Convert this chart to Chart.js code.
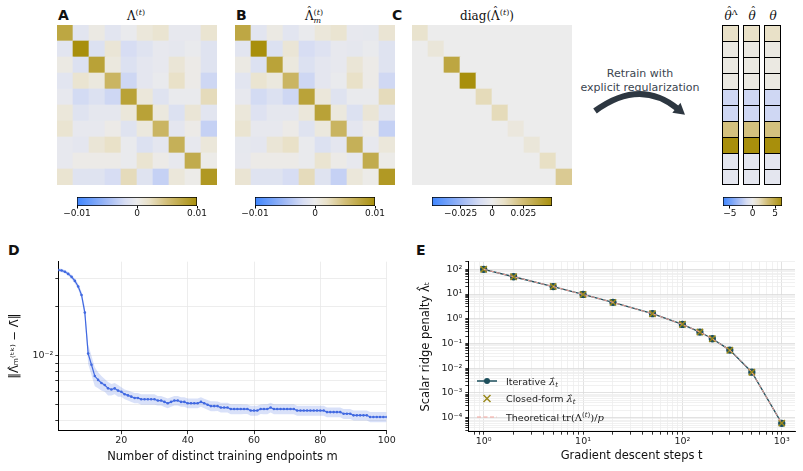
<!DOCTYPE html>
<html>
<head>
<meta charset="utf-8">
<title>figure</title>
<script src="https://cdn.jsdelivr.net/npm/chart.js@4.4.1/dist/chart.umd.min.js"></script>
<style>
  body { margin: 0; background: #fff; }
  #fig { position: relative; width: 803px; height: 471px; overflow: hidden; font-family: "DejaVu Sans", sans-serif; color: #111; }
  #fig canvas { position: absolute; }
  .panel { position: absolute; font-weight: bold; font-size: 14px; line-height: 14px; }
  .math { position: absolute; font-family: "DejaVu Serif", serif; font-size: 12px; line-height: 14px; text-align: center; white-space: nowrap; }
  .math sup { font-size: 8px; vertical-align: 5px; line-height: 0; }
  .ss { display: inline-block; font-size: 8px; line-height: 8px; vertical-align: -3px; text-align: left; }
  .hat { position: relative; display: inline-block; }
  .hat::after { content: "ˆ"; position: absolute; left: 0; right: 0; top: -4px; text-align: center; font-style: normal; font-size: 11px; }
  .hat.it::after { left: 2px; }
  #retrain { position: absolute; left: 575px; top: 67px; width: 130px; text-align: center; font-size: 11px; line-height: 14px; color: #3b4550; }
</style>
</head>
<body>
<div id="fig">
  <div class="panel" style="left:58px;top:8px">A</div>
  <div class="panel" style="left:236px;top:8px">B</div>
  <div class="panel" style="left:392px;top:8px">C</div>
  <div class="panel" style="left:8px;top:243px">D</div>
  <div class="panel" style="left:416px;top:243px">E</div>

  <div class="math" style="left:106px;top:9px;width:60px">Λ<sup>(<i>t</i>)</sup></div>
  <div class="math" style="left:284px;top:9px;width:60px"><span class="hat">Λ</span><span class="ss">(<i>t</i>)<br><i>m</i></span></div>
  <div class="math" style="left:437px;top:9px;width:100px">diag(<span class="hat">Λ</span><sup>(<i>t</i>)</sup>)</div>
  <div class="math" style="left:719px;top:9px;width:24px"><i class="hat it">θ</i><sup>Λ</sup></div>
  <div class="math" style="left:742px;top:9px;width:20px"><i class="hat it">θ</i></div>
  <div class="math" style="left:763px;top:9px;width:20px"><i>θ</i></div>

  <div id="retrain">Retrain with<br>explicit regularization</div>
  <svg width="803" height="471" style="position:absolute;left:0;top:0">
    <path d="M595,111 Q640,78 678,109" stroke="#2d3741" stroke-width="6" fill="none"/>
    <polygon points="685,114.7 672.3,112.7 680.5,102.7" fill="#2d3741"/>
  </svg>

  <canvas id="heatA" width="160" height="160" style="left:57px;top:25px"></canvas>
  <canvas id="heatB" width="160" height="160" style="left:235px;top:25px"></canvas>
  <canvas id="heatC" width="160" height="160" style="left:412px;top:25px"></canvas>
  <canvas id="vecs" width="63" height="160" style="left:720px;top:25px"></canvas>
  <canvas id="chartD" width="400" height="236" style="left:0px;top:235px"></canvas>
  <canvas id="chartE" width="403" height="236" style="left:400px;top:235px"></canvas>
</div>

<script>
// ---------- data ----------
// panel A: Lambda^(t), 10x10, rows top to bottom
const heatA = [
  [0.0075,-0.0010,0.0005,-0.0010,-0.0003,0.0010,0.0015,-0.0005,-0.0005,0.0015],
  [-0.0010,0.0100,-0.0015,0.0012,-0.0020,-0.0012,-0.0005,-0.0007,-0.0003,-0.0012],
  [0.0005,-0.0015,0.0080,0.0008,-0.0015,-0.0008,-0.0005,0.0012,0.0003,-0.0012],
  [-0.0010,0.0015,0.0008,0.0060,-0.0025,-0.0008,-0.0003,0.0020,0.0003,-0.0025],
  [-0.0005,-0.0022,-0.0015,-0.0025,0.0080,0.0010,-0.0012,-0.0003,-0.0003,0.0025],
  [0.0010,-0.0012,-0.0007,-0.0007,0.0010,0.0080,0.0008,-0.0015,0.0012,-0.0010],
  [0.0015,-0.0005,-0.0005,0.0003,-0.0012,0.0008,0.0060,-0.0008,0.0003,-0.0030],
  [-0.0005,-0.0008,0.0012,0.0020,-0.0003,-0.0015,-0.0008,0.0065,-0.0005,0.0010],
  [-0.0005,0.0003,0.0003,0.0003,-0.0003,0.0015,0.0003,-0.0005,0.0070,0.0002],
  [0.0015,-0.0012,-0.0012,-0.0020,0.0025,-0.0012,-0.0030,0.0010,0.0002,0.0090]
];
// panel B: estimated Lambda_m^(t)
const heatB = [
  [0.0074,-0.0010,0.0005,-0.0010,-0.0003,0.0010,0.0015,-0.0005,-0.0006,0.0014],
  [-0.0010,0.0100,-0.0015,0.0012,-0.0020,-0.0013,-0.0005,-0.0007,-0.0003,-0.0012],
  [0.0005,-0.0015,0.0079,0.0008,-0.0015,-0.0008,-0.0005,0.0012,0.0003,-0.0012],
  [-0.0010,0.0015,0.0008,0.0060,-0.0025,-0.0008,-0.0003,0.0020,0.0003,-0.0024],
  [-0.0005,-0.0022,-0.0015,-0.0025,0.0079,0.0010,-0.0012,-0.0003,-0.0003,0.0025],
  [0.0010,-0.0013,-0.0007,-0.0007,0.0010,0.0080,0.0008,-0.0015,0.0012,-0.0010],
  [0.0015,-0.0005,-0.0005,0.0003,-0.0012,0.0008,0.0061,-0.0008,0.0003,-0.0030],
  [-0.0006,-0.0008,0.0012,0.0020,-0.0003,-0.0015,-0.0008,0.0065,-0.0005,0.0010],
  [-0.0005,0.0003,0.0003,0.0003,-0.0003,0.0015,0.0003,-0.0005,0.0070,0.0002],
  [0.0014,-0.0012,-0.0012,-0.0020,0.0025,-0.0012,-0.0030,0.0010,0.0002,0.0089]
];
// panel C: diagonal of Lambda-hat
const diagC = [0.008, 0.005, 0.036, 0.0477, 0.012, 0.012, 0.004, 0.005, 0.010, 0.019];
// parameter vectors
const thetaLam  = [1.3, 0.35, 0.35, 0.35, -1.6, -1.6, 3.1, 6.5, -0.5, -0.5];
const thetaHat  = [1.3, 0.35, 0.35, 0.35, -1.6, -1.6, 3.1, 6.5, -0.5, -0.5];
const thetaTrue = [1.3, 0.35, 0.35, 0.35, -1.6, -1.6, 3.1, 6.5, -0.5, -0.5];

// colour scale limits and colourbar ticks
const vmaxAB = 0.01, vmaxC = 0.0477, vmaxVec = 6.5;
const cbTicksAB = [-0.01, 0, 0.01], cbLabelsAB = ['−0.01', '0', '0.01'];
const cbTicksC = [-0.025, 0, 0.025], cbLabelsC = ['−0.025', '0', '0.025'];
const cbTicksVec = [-5, 0, 5], cbLabelsVec = ['−5', '0', '5'];

// panel D: error vs number of endpoints m = 1..100
const dMean = [
  0.0336,0.0334,0.0328,0.0318,0.0305,0.0288,0.0266,0.0236,0.0184,0.0103,
  0.0088,0.0075,0.0071,0.0068,0.0066,0.0063,0.0062,0.0063,0.0061,0.0060,
  0.0058,0.0057,0.0056,0.0055,0.0055,0.0054,0.0054,0.0054,0.0054,0.0054,
  0.0053,0.0053,0.0052,0.0051,0.0052,0.0053,0.0053,0.0052,0.0052,0.0051,
  0.0051,0.0051,0.0051,0.0052,0.0051,0.0050,0.0049,0.0049,0.0049,0.0048,
  0.0048,0.0048,0.0047,0.0047,0.0047,0.0047,0.0047,0.0047,0.0046,0.0046,
  0.0046,0.0047,0.0047,0.0047,0.0048,0.0047,0.0047,0.0047,0.0047,0.0047,
  0.0047,0.0047,0.0046,0.0046,0.0046,0.0046,0.0046,0.0046,0.0046,0.0046,
  0.0046,0.0045,0.0045,0.0045,0.0045,0.0045,0.0044,0.0044,0.0044,0.0043,
  0.0043,0.0043,0.0043,0.0043,0.0042,0.0042,0.0042,0.0042,0.0042,0.0042
];
const dStd = [
  0.0008,0.0008,0.0008,0.0009,0.0009,0.0010,0.0011,0.0012,0.0015,0.0014,
  0.0012,0.0010,0.0008,0.0007,0.0006,0.0006,0.0005,0.0005,0.0005,0.0004,
  0.0004,0.0004,0.0004,0.0004,0.0004,0.0004,0.0004,0.0004,0.0004,0.0004,
  0.00036,0.00036,0.00036,0.00035,0.00035,0.00036,0.00036,0.00035,0.00035,0.00035,
  0.00035,0.00035,0.00035,0.00035,0.00034,0.00034,0.00034,0.00034,0.00033,0.00033,
  0.00033,0.00033,0.00033,0.00033,0.00033,0.00033,0.00032,0.00032,0.00032,0.00032,
  0.00032,0.00032,0.00033,0.00033,0.00033,0.00033,0.00033,0.00033,0.00033,0.00033,
  0.00033,0.00033,0.00032,0.00032,0.00032,0.00032,0.00032,0.00032,0.00032,0.00032,
  0.00032,0.00031,0.00031,0.00031,0.00031,0.00031,0.00031,0.00031,0.00031,0.00030,
  0.00030,0.00030,0.00030,0.00030,0.00030,0.00030,0.00030,0.00030,0.00030,0.00030
];
const dXTicks = [20, 40, 60, 80, 100];
const dYMajor = [0.01], dYLabels = ['10⁻²'];

// panel E: scalar ridge penalty vs gradient steps
const eSteps       = [1, 2, 5, 10, 20, 50, 100, 150, 200, 300, 500, 1000];
const eIterative   = [100, 50, 20, 9.6, 4.6, 1.6, 0.59, 0.29, 0.155, 0.054, 0.0069, 0.000059];
const eClosedForm  = [100, 50, 20, 9.6, 4.6, 1.6, 0.60, 0.29, 0.155, 0.053, 0.0069, 0.000060];
const eTheoretical = [100, 50, 20, 9.6, 4.6, 1.6, 0.59, 0.29, 0.154, 0.054, 0.0069, 0.000059];
const eXMajor = [1, 10, 100, 1000], eXLabels = ['10⁰', '10¹', '10²', '10³'];
const eYMajor = [1e-4, 1e-3, 1e-2, 1e-1, 1, 10, 100];
const eYLabels = ['10⁻⁴', '10⁻³', '10⁻²', '10⁻¹', '10⁰', '10¹', '10²'];

// ---------- helpers ----------
Chart.defaults.font.family = '"DejaVu Sans", sans-serif';
Chart.defaults.color = '#222';
Chart.defaults.animation = false;
Chart.defaults.responsive = false;
Chart.defaults.plugins.legend.display = false;
Chart.defaults.plugins.tooltip.enabled = false;

const fig = document.getElementById('fig');
const cmapStops = [
  [-1.0, [63, 134, 255]],
  [-0.5, [160, 185, 245]],
  [-0.2, [215, 221, 243]],
  [0.0, [236, 236, 236]],
  [0.2, [233, 225, 200]],
  [0.5, [210, 190, 120]],
  [1.0, [168, 143, 12]]
];
function rgb(c) { return 'rgb(' + c.map(Math.round).join(',') + ')'; }
function cmap(t) {
  t = Math.max(-1, Math.min(1, t));
  for (let i = 1; i < cmapStops.length; i++) {
    const [t1, c1] = cmapStops[i];
    if (t <= t1) {
      const [t0, c0] = cmapStops[i - 1];
      const f = (t - t0) / (t1 - t0);
      return rgb(c0.map((v, k) => v + f * (c1[k] - v)));
    }
  }
  return rgb(cmapStops[cmapStops.length - 1][1]);
}

function heatChart(el, rows, vmax, boxed, barPct) {
  const n = rows.length;
  const datasets = rows.map((row, r) => ({
    data: row.map(() => 1),
    backgroundColor: row.map(v => cmap(v / vmax)),
    borderColor: '#000',
    borderWidth: boxed ? {top: 1, left: 1, right: 1, bottom: r === n - 1 ? 1 : 0} : 0,
    borderSkipped: false,
    barPercentage: barPct || 1,
    categoryPercentage: 1
  })).reverse();
  new Chart(el, {
    type: 'bar',
    data: {labels: rows[0].map((_, i) => i), datasets},
    options: {
      layout: {padding: 0},
      scales: {
        x: {stacked: true, display: false},
        y: {stacked: true, display: false, min: 0, max: n}
      }
    }
  });
}

function colorbar(left, right, top, vmax, ticks, labels) {
  const m = 18, w = right - left;
  const cv = document.createElement('canvas');
  cv.width = w + 2 * m; cv.height = 26;
  cv.style.left = (left - m) + 'px';
  cv.style.top = (top - 2) + 'px';
  fig.appendChild(cv);
  new Chart(cv, {
    type: 'bar',
    data: {
      labels: [''],
      datasets: [{
        data: [[-vmax, vmax]],
        backgroundColor: (c) => {
          const a = c.chart.chartArea;
          if (!a) return '#ccc';
          const g = c.chart.ctx.createLinearGradient(a.left, 0, a.right, 0);
          cmapStops.forEach(([t, col]) => g.addColorStop((t + 1) / 2, rgb(col)));
          return g;
        },
        borderColor: '#000', borderWidth: 1, borderSkipped: false,
        barPercentage: 1, categoryPercentage: 1
      }]
    },
    options: {
      indexAxis: 'y',
      layout: {padding: {left: m, right: m, top: 2, bottom: 0}},
      scales: {
        y: {display: false},
        x: {
          type: 'linear', min: -vmax, max: vmax,
          afterBuildTicks: s => { s.ticks = ticks.map(v => ({value: v})); },
          afterFit: s => { s.height = 15; },
          border: {display: false},
          grid: {drawOnChartArea: false, drawTicks: true, tickLength: 2.5, tickColor: '#000'},
          ticks: {autoSkip: false, maxRotation: 0, padding: 0, font: {size: 9}, color: '#111',
                  callback: (v, i) => labels[i]}
        }
      }
    }
  });
}

// minor + major tick values for a log axis
function logTicks(major, lo, hi) {
  const out = [];
  [major[0] / 10, ...major].forEach(d => {
    for (let k = 1; k <= 9; k++) {
      const v = +(k * d).toPrecision(6);
      if (v >= lo && v <= hi) out.push(v);
    }
  });
  return out;
}
function majorIndex(v, major) {
  return major.findIndex(mv => Math.abs(Math.log10(v) - Math.log10(mv)) < 1e-6);
}

// ---------- panels A, B, C and vectors ----------
heatChart(document.getElementById('heatA'), heatA, vmaxAB);
heatChart(document.getElementById('heatB'), heatB, vmaxAB);
heatChart(document.getElementById('heatC'), diagC.map((d, i) => diagC.map((_, j) => i === j ? d : 0)), vmaxC);
heatChart(document.getElementById('vecs'), thetaLam.map((v, i) => [v, thetaHat[i], thetaTrue[i]]), vmaxVec, true, 17 / 21);

colorbar(77, 197, 197, vmaxAB, cbTicksAB, cbLabelsAB);
colorbar(255, 375, 197, vmaxAB, cbTicksAB, cbLabelsAB);
colorbar(432, 552, 197, vmaxC, cbTicksC, cbLabelsC);
colorbar(723, 782, 197, vmaxVec, cbTicksVec, cbLabelsVec);

// ---------- panel D ----------
const dM = dMean.map((_, i) => i + 1);
const blue = '#4169e1';
const dYTicks = logTicks(dYMajor, 0.00346, 0.0378);
new Chart(document.getElementById('chartD'), {
  type: 'line',
  data: {
    datasets: [
      {data: dM.map((m, i) => ({x: m, y: dMean[i] - dStd[i]})), borderWidth: 0, pointRadius: 0, fill: false, order: 3},
      {data: dM.map((m, i) => ({x: m, y: dMean[i] + dStd[i]})), borderWidth: 0, pointRadius: 0,
       fill: '-1', backgroundColor: 'rgba(65,105,225,0.2)', order: 2},
      {data: dM.map((m, i) => ({x: m, y: dMean[i]})), borderColor: blue, borderWidth: 1.2,
       pointRadius: 1.3, pointBackgroundColor: blue, pointBorderWidth: 0, order: 1}
    ]
  },
  options: {
    layout: {padding: {top: 26.7, right: 13.3, left: 0, bottom: 0}},
    scales: {
      x: {
        type: 'linear', min: 1, max: 100,
        afterBuildTicks: s => { s.ticks = dXTicks.map(v => ({value: v})); },
        afterFit: s => { s.height = 40.3; },
        border: {display: true, color: '#000', width: 1},
        grid: {color: '#e8e8e8', lineWidth: 0.8, tickLength: 3.5, tickColor: '#000'},
        ticks: {autoSkip: false, maxRotation: 0, padding: 1, font: {size: 9.5}, color: '#222'},
        title: {display: true, text: 'Number of distinct training endpoints m', font: {size: 11.5},
                color: '#111', padding: {top: 0, bottom: 7.4}}
      },
      y: {
        type: 'logarithmic', min: 0.00346, max: 0.0378,
        afterBuildTicks: s => { s.ticks = dYTicks.map(v => ({value: v})); },
        afterFit: s => { s.width = 58.3; },
        border: {display: true, color: '#000', width: 1},
        grid: {color: '#e8e8e8', lineWidth: 0.8, tickLength: 3, tickColor: '#000'},
        ticks: {autoSkip: false, padding: 2, font: {size: 9.5}, color: '#222',
                callback: v => { const i = majorIndex(v, dYMajor); return i >= 0 ? dYLabels[i] : ''; }},
        title: {display: true, text: '‖Λ̂ₘ⁽ᵗᵏ⁾ − Λ̄‖', font: {size: 11.5}, color: '#111',
                padding: {top: 8, bottom: 0}}
      }
    }
  }
});

// ---------- panel E ----------
const eColors = {iter: '#1d4f5c', closed: '#9b8a1d', theory: '#f4a29a'};
const eXTicks = logTicks(eXMajor, 0.734, 1359);
const eYTicks = logTicks(eYMajor, 2.7e-5, 203);
const sans = '9.5px "DejaVu Sans"', serif = '10px "DejaVu Serif"', serifIt = 'italic 10px "DejaVu Serif"';
const small = '7px "DejaVu Serif"', smallIt = 'italic 7px "DejaVu Serif"';

const eLegend = {
  id: 'eLegend',
  afterDraw(chart) {
    const c = chart.ctx;
    const x0 = 77, x1 = 97, xm = 87, xt = 106, rows = [146, 163.5, 182];
    c.save();
    c.strokeStyle = eColors.iter; c.lineWidth = 1.5;
    c.beginPath(); c.moveTo(x0, rows[0]); c.lineTo(x1, rows[0]); c.stroke();
    c.fillStyle = eColors.iter;
    c.beginPath(); c.arc(xm, rows[0], 3, 0, 2 * Math.PI); c.fill();
    c.strokeStyle = eColors.closed; c.lineWidth = 1.5;
    c.beginPath();
    c.moveTo(xm - 3.5, rows[1] - 3.5); c.lineTo(xm + 3.5, rows[1] + 3.5);
    c.moveTo(xm - 3.5, rows[1] + 3.5); c.lineTo(xm + 3.5, rows[1] - 3.5);
    c.stroke();
    c.strokeStyle = eColors.theory; c.lineWidth = 1; c.setLineDash([4, 2.5]);
    c.beginPath(); c.moveTo(x0, rows[2]); c.lineTo(x1, rows[2]); c.stroke();
    c.setLineDash([]);
    const texts = [
      [['Iterative ', sans, 0], ['λ̂', serifIt, 0], ['t', smallIt, 2]],
      [['Closed-form ', sans, 0], ['λ̂', serifIt, 0], ['t', smallIt, 2]],
      [['Theoretical ', sans, 0], ['tr(Λ', serif, 0], ['(', small, -4], ['t', smallIt, -4], [')', small, -4],
       [')/', serif, 0], ['p', serifIt, 0]]
    ];
    c.fillStyle = '#222'; c.textBaseline = 'alphabetic';
    texts.forEach((parts, r) => {
      let x = xt;
      parts.forEach(([t, f, dy]) => {
        c.font = f; c.fillText(t, x, rows[r] + 3.5 + dy); x += c.measureText(t).width;
      });
    });
    c.restore();
  }
};

const eGridColor = ctx => (ctx.tick && majorIndex(ctx.tick.value, [...eXMajor, ...eYMajor]) >= 0) ? '#dadada' : '#eeeeee';
new Chart(document.getElementById('chartE'), {
  type: 'line',
  data: {
    datasets: [
      {data: eSteps.map((t, i) => ({x: t, y: eIterative[i]})), borderColor: eColors.iter, borderWidth: 1.3,
       pointRadius: 3, pointBackgroundColor: eColors.iter, pointBorderColor: eColors.iter, order: 3},
      {data: eSteps.map((t, i) => ({x: t, y: eClosedForm[i]})), showLine: false, pointStyle: 'crossRot',
       pointRadius: 4.5, borderColor: eColors.closed, pointBorderWidth: 1.5, order: 2},
      {data: eSteps.map((t, i) => ({x: t, y: eTheoretical[i]})), borderColor: eColors.theory, borderWidth: 1,
       borderDash: [4, 2.5], pointRadius: 0, order: 1}
    ]
  },
  options: {
    layout: {padding: {top: 26.7, right: 8, left: 0, bottom: 0}},
    scales: {
      x: {
        type: 'logarithmic', min: 0.734, max: 1359,
        afterBuildTicks: s => { s.ticks = eXTicks.map(v => ({value: v})); },
        afterFit: s => { s.height = 39.3; },
        border: {display: true, color: '#000', width: 1},
        grid: {color: eGridColor, lineWidth: 0.8, tickLength: 3, tickColor: '#000'},
        ticks: {autoSkip: false, maxRotation: 0, padding: 1, font: {size: 9.5}, color: '#222',
                callback: v => { const i = majorIndex(v, eXMajor); return i >= 0 ? eXLabels[i] : ''; }},
        title: {display: true, text: 'Gradient descent steps t', font: {size: 11.5}, color: '#111',
                padding: {top: 0, bottom: 8.4}}
      },
      y: {
        type: 'logarithmic', min: 2.7e-5, max: 203,
        afterBuildTicks: s => { s.ticks = eYTicks.map(v => ({value: v})); },
        afterFit: s => { s.width = 68.3; },
        border: {display: true, color: '#000', width: 1},
        grid: {color: eGridColor, lineWidth: 0.8, tickLength: 3, tickColor: '#000'},
        ticks: {autoSkip: false, padding: 3, font: {size: 9.5}, color: '#222',
                callback: v => { const i = majorIndex(v, eYMajor); return i >= 0 ? eYLabels[i] : ''; }},
        title: {display: true, text: 'Scalar ridge penalty λ̂ₜ', font: {size: 11.5}, color: '#111',
                padding: {top: 19, bottom: 0}}
      }
    }
  },
  plugins: [eLegend]
});
</script>
</body>
</html>
